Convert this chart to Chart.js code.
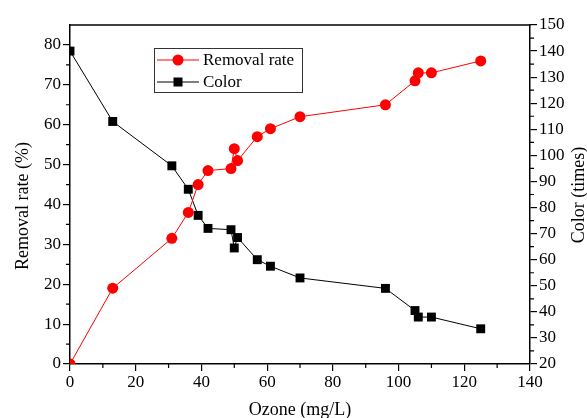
<!DOCTYPE html>
<html>
<head>
<meta charset="utf-8">
<script src="https://cdn.jsdelivr.net/npm/chart.js@4.4.1/dist/chart.umd.min.js"></script>
<style>
  html, body { margin: 0; padding: 0; background: #fff; }
  #wrap { width: 587px; height: 418px; }
</style>
</head>
<body>
<div id="wrap"><canvas id="ozoneChart"></canvas></div>
<script>
// ozone dose (mg/L) for each sample
const ozone = [0, 13, 31, 36, 39, 42, 49, 50, 51, 57, 61, 70, 96, 105, 106, 110, 125];
// removal rate (%) on the left axis
const removalRate = [0, 19, 31.5, 38, 45, 48.5, 49, 54, 51, 57, 59, 62, 65, 71, 73, 73, 76];
// color (times) on the right axis
const colorTimes = [140, 113, 96, 87, 77, 72, 71.5, 64.5, 68.5, 60, 57.5, 53, 49, 40.5, 38, 38, 33.5];

const seriesNames = ["Removal rate", "Color"];
const xTicks = [0, 20, 40, 60, 80, 100, 120, 140];
const leftTicks = [0, 10, 20, 30, 40, 50, 60, 70, 80];
const rightTicks = [20, 30, 40, 50, 60, 70, 80, 90, 100, 110, 120, 130, 140, 150];

const FONT = "Liberation Serif, Times New Roman, serif";

function pairs(xs, ys) {
  return xs.map((x, i) => ({ x: x, y: ys[i] }));
}

function fixTicks(list) {
  return scale => { scale.ticks = list.map(v => ({ value: v })); };
}

// minor ticks, top frame line, axis titles and the boxed legend
const decorations = {
  id: 'decorations',
  afterDraw(chart) {
    const c = chart.ctx;
    const a = chart.chartArea;
    const sx = chart.scales.x, sl = chart.scales.y, sr = chart.scales.y1;
    c.save();
    c.strokeStyle = '#000';
    c.lineWidth = 1.5;

    // top frame
    c.beginPath();
    c.moveTo(a.left - 0.75, a.top);
    c.lineTo(a.right + 0.75, a.top);
    c.stroke();

    // minor ticks
    c.lineWidth = 1.2;
    c.beginPath();
    for (let v = 10; v < 140; v += 20) {
      const px = sx.getPixelForValue(v);
      c.moveTo(px, a.bottom);
      c.lineTo(px, a.bottom + 4);
    }
    for (let v = 5; v < 85; v += 10) {
      const py = sl.getPixelForValue(v);
      c.moveTo(a.left, py);
      c.lineTo(a.left - 4, py);
    }
    for (let v = 25; v < 150; v += 10) {
      const py = sr.getPixelForValue(v);
      c.moveTo(a.right, py);
      c.lineTo(a.right + 4, py);
    }
    c.stroke();

    // axis titles
    c.fillStyle = '#000';
    c.font = '18px ' + FONT;
    c.textAlign = 'center';
    c.textBaseline = 'alphabetic';
    c.fillText('Ozone (mg/L)', (a.left + a.right) / 2, 415);

    c.textBaseline = 'middle';
    c.save();
    c.translate(23, 206);
    c.rotate(-Math.PI / 2);
    c.fillText('Removal rate (%)', 0, 0);
    c.restore();

    c.save();
    c.translate(579, 195);
    c.rotate(-Math.PI / 2);
    c.fillText('Color (times)', 0, 0);
    c.restore();

    // legend box
    const lx = 154, ly = 48, lw = 148, lh = 44;
    c.lineWidth = 1;
    c.strokeStyle = '#333';
    c.strokeRect(lx + 0.5, ly + 0.5, lw, lh);
    const rows = [60, 82];
    chart.data.datasets.forEach((ds, i) => {
      const y = rows[i];
      c.strokeStyle = ds.borderColor;
      c.lineWidth = 1;
      c.beginPath();
      c.moveTo(157, y);
      c.lineTo(199, y);
      c.stroke();
      c.fillStyle = ds.pointBackgroundColor;
      c.beginPath();
      if (ds.pointStyle === 'rect') {
        c.rect(178 - 4.5, y - 4.5, 9, 9);
      } else {
        c.arc(178, y, 5.5, 0, Math.PI * 2);
      }
      c.fill();
      c.fillStyle = '#000';
      c.font = '17px ' + FONT;
      c.textAlign = 'left';
      c.textBaseline = 'middle';
      c.fillText(ds.label, 203, y + 1);
    });
    c.restore();
  }
};

const ctx = document.getElementById('ozoneChart').getContext('2d');
const chart = new Chart(ctx, {
  type: 'line',
  data: {
    datasets: [
      {
        label: seriesNames[0],
        data: pairs(ozone, removalRate),
        yAxisID: 'y',
        borderColor: '#ff0000',
        backgroundColor: '#ff0000',
        pointBackgroundColor: '#ff0000',
        pointBorderColor: '#ff0000',
        pointStyle: 'circle',
        pointRadius: 5.5,
        borderWidth: 1,
        pointBorderWidth: 0,
        clip: 0
      },
      {
        label: seriesNames[1],
        data: pairs(ozone, colorTimes),
        yAxisID: 'y1',
        borderColor: '#000000',
        backgroundColor: '#000000',
        pointBackgroundColor: '#000000',
        pointBorderColor: '#000000',
        pointStyle: 'rect',
        pointRadius: 6.3,
        borderWidth: 1,
        pointBorderWidth: 0,
        clip: 0
      }
    ]
  },
  options: {
    responsive: true,
    maintainAspectRatio: false,
    animation: false,
    layout: { padding: { top: 25, left: 0, right: 0, bottom: 0 } },
    plugins: {
      legend: { display: false },
      tooltip: { enabled: false }
    },
    scales: {
      x: {
        type: 'linear',
        min: 0,
        max: 140,
        afterBuildTicks: fixTicks(xTicks),
        afterFit: s => { s.height = 54; },
        border: { display: true, color: '#000', width: 1.5 },
        grid: { drawOnChartArea: false, drawTicks: true, tickLength: 7, color: '#000', lineWidth: 1.2 },
        ticks: { color: '#000', padding: 1, maxRotation: 0, font: { family: FONT, size: 17 } }
      },
      y: {
        position: 'left',
        min: 0,
        max: 85,
        afterBuildTicks: fixTicks(leftTicks),
        afterFit: s => { s.width = 70; },
        border: { display: true, color: '#000', width: 1.5 },
        grid: { drawOnChartArea: false, drawTicks: true, tickLength: 7, color: '#000', lineWidth: 1.2 },
        ticks: { color: '#000', padding: 2, font: { family: FONT, size: 17 } }
      },
      y1: {
        position: 'right',
        min: 20,
        max: 150,
        afterBuildTicks: fixTicks(rightTicks),
        afterFit: s => { s.width = 57; },
        border: { display: true, color: '#000', width: 1.5 },
        grid: { drawOnChartArea: false, drawTicks: true, tickLength: 7, color: '#000', lineWidth: 1.2 },
        ticks: { color: '#000', padding: 2, font: { family: FONT, size: 17 } }
      }
    }
  },
  plugins: [decorations]
});
</script>
</body>
</html>
